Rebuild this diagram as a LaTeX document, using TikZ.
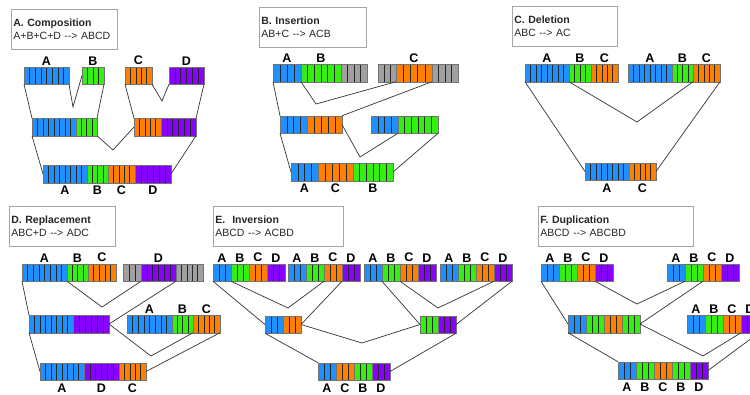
\documentclass[tikz,border=0pt]{standalone}
\usepackage{fontspec}
\setmainfont{Liberation Sans}
\usepackage{tikz}
\usetikzlibrary{positioning,calc}

\definecolor{sininen}{RGB}{30,144,255}
\definecolor{vihrea}{RGB}{51,240,17}
\definecolor{oranssi}{RGB}{255,128,0}
\definecolor{violetti}{RGB}{136,0,255}
\definecolor{harmaa}{RGB}{160,160,160}
\def\viiva{-}

\tikzset{
  pala/.style={draw=black!55, line width=0.4pt, fill=#1, minimum height=17.5pt, inner sep=0pt, outer sep=0pt},
  jakaja/.style={draw=black!85, line width=0.5pt},
  solut/.style={path picture={
      \foreach \m in {1,...,#1}
        \draw[jakaja] ($(path picture bounding box.south west)!{\m/#1}!(path picture bounding box.south east)$)
          -- ($(path picture bounding box.north west)!{\m/#1}!(path picture bounding box.north east)$);
    }},
  kirjain/.style={font=\fontsize{12.5}{13}\selectfont\bfseries, inner sep=0pt},
  ylos/.code={\edef\kirjainteksti{#1}\ifx\kirjainteksti\viiva\else
      \pgfkeysalso{label={[kirjain,yshift=1.5pt]above:#1}}\fi},
  alas/.code={\edef\kirjainteksti{#1}\ifx\kirjainteksti\viiva\else
      \pgfkeysalso{label={[kirjain,yshift=-3pt]below:#1}}\fi},
  ei/.style={},
  yhteys/.style={draw=black!80, line width=0.7pt},
  otsikko/.style={draw=black!35, line width=0.8pt, fill=white, anchor=north west, inner sep=2pt,
    align=left, text=black!85, font=\fontsize{10.5}{12.5}\selectfont, minimum height=40pt},
}

% Kromosomi: palat vierekkäin vasemmalta oikealle
\newcommand{\kromo}[4][ei]{%
  \coordinate (#2-0) at (#3);
  \gdef\edell{#2-0}%
  \foreach \nimi/\vari/\lev/\sol/\kir in {#4}{%
    \node[pala=\vari, minimum width=\lev pt, solut=\sol, #1=\kir, right=0pt of \edell] (#2\nimi) {};
    \xdef\edell{#2\nimi}%
  }%
}

\begin{document}
\begin{tikzpicture}[x=1pt, y=-1pt]
	\useasboundingbox (0,0) rectangle (750,394);
	
	% A. Koostaminen
	\node[otsikko, text width=102pt] (tA) at (11,9) {\textbf{A. Composition}\\A+B+C+D -{}-> ABCD};
	\kromo[ylos]{a1}{24,75.5}{A/sininen/45/8/A}
	\kromo[ylos]{a2}{82,75.5}{B/vihrea/22/4/B}
	\kromo[ylos]{a3}{125,75.5}{C/oranssi/27/5/C}
	\kromo[ylos]{a4}{169,75.5}{D/violetti/35/6/D}
	\kromo{a5}{32,127}{A/sininen/44/8/-,B/vihrea/21/4/-}
	\kromo{a6}{134,127}{C/oranssi/27/5/-,D/violetti/35/6/-}
	\kromo[alas]{a7}{43,174}{A/sininen/44/8/A,B/vihrea/21/4/B,C/oranssi/27/5/C,D/violetti/36/6/D}
	\coordinate (va1) at (73,107);
	\coordinate (va2) at (162,101);
	\coordinate (va3) at (113,150);
	\draw[yhteys] (a1A.south west) -- (a5A.north west);
	\draw[yhteys] (a1A.south east) -- (va1) -- (a2B.west);
	\draw[yhteys] (a2B.south east) -- (a5B.north east);
	\draw[yhteys] (a3C.south west) -- (a6C.north west);
	\draw[yhteys] (a3C.south east) -- (va2) -- (a4D.south west);
	\draw[yhteys] (a4D.south east) -- (a6D.north east);
	\draw[yhteys] (a5A.south west) -- (a7A.west);
	\draw[yhteys] (a5B.south east) -- (va3) -- (a6C.west);
	\draw[yhteys] (a6D.south east) -- (a7D.east);
	
	% B. Lisäys
	\node[otsikko, text width=103pt] (tB) at (259,7) {\textbf{B. Insertion}\\AB+C -{}-> ACB};
	\kromo[ylos]{b1}{273,73}{A/sininen/28/4/A,B/vihrea/40/6/B,X/harmaa/26/4/-}
	\kromo[ylos]{b2}{378,73}{X/harmaa/18/3/-,C/oranssi/36/5/C,Y/harmaa/26/4/-}
	\kromo{b3}{280,124.5}{A/sininen/27/4/-,C/oranssi/35/5/-}
	\kromo{b4}{371,124.5}{A/sininen/27/4/-,B/vihrea/40/6/-}
	\kromo[alas]{b5}{291,172}{A/sininen/27/4/A,C/oranssi/35/5/C,B/vihrea/40/6/B}
	\coordinate (vb1) at (316,104);
	\coordinate (vb2) at (360,157);
	\draw[yhteys] (b1A.south west) -- (b3A.north west);
	\draw[yhteys] (b1A.south east) -- (vb1) -- (b2X.south east);
	\draw[yhteys] (b2C.south east) -- (b3C.north east);
	\draw[yhteys] (b3A.south west) -- (b5A.west);
	\draw[yhteys] (b3C.east) -- (vb2) -- (b4A.south east);
	\draw[yhteys] (b4B.south east) -- (b5B.east);
	
	% C. Poisto
	\node[otsikko, text width=101pt] (tC) at (512,6) {\textbf{C. Deletion}\\ABC -{}-> AC};
	\kromo[ylos]{c1}{525,73}{A/sininen/44/8/A,B/vihrea/22/4/B,C/oranssi/27/5/C}
	\kromo[ylos]{c2}{628,73}{A/sininen/44/8/A,B/vihrea/21/4/B,C/oranssi/27/5/C}
	\kromo[alas]{c3}{585,171.5}{A/sininen/44/8/A,C/oranssi/27/5/C}
	\coordinate (vc1) at (637,122);
	\draw[yhteys] (c1A.south west) -- (c3A.west);
	\draw[yhteys] (c1A.south east) -- (vc1) -- (c2B.south east);
	\draw[yhteys] (c2C.south east) -- (c3C.east);
	
	% D. Korvaus
	\node[otsikko, text width=102pt] (tD) at (9,206) {\textbf{D. Replacement}\\ABC+D -{}-> ADC};
	\kromo[ylos]{d1}{22,272.5}{A/sininen/45/8/A,B/vihrea/21/4/B,C/oranssi/28/5/C}
	\kromo[ylos]{d2}{123,272.5}{X/harmaa/18/3/-,D/violetti/35/6/D,Y/harmaa/27/5/-}
	\kromo{d3}{29,324}{A/sininen/44/8/-,D/violetti/36/6/-}
	\kromo[ylos]{d4}{127,324}{A/sininen/45/8/A,B/vihrea/21/4/B,C/oranssi/27/5/C}
	\kromo[alas]{d5}{40,371.5}{A/sininen/44/8/A,D/violetti/35/6/D,C/oranssi/27/5/C}
	\coordinate (vd1) at (102,307);
	\coordinate (vd2) at (151,356);
	\draw[yhteys] (d1A.south west) -- (d3A.north west);
	\draw[yhteys] (d3A.south west) -- (d5A.west);
	\draw[yhteys] (d1A.south east) -- (vd1) -- (d2X.south east);
	\draw[yhteys] (d2D.south east) -- (d3D.east);
	\draw[yhteys] (d3D.east) -- (vd2) -- (d4B.south east);
	\draw[yhteys] (d4C.south east) -- (d5C.east);
	
	% E. Inversio
	\node[otsikko, text width=126pt] (tE) at (213,206) {\textbf{E.~~Inversion}\\ABCD -{}-> ACBD};
	\foreach \j/\x in {1/213,2/288,3/364,4/440}
		\kromo[ylos]{e\j}{\x,272.5}{A/sininen/18/3/A,B/vihrea/18/3/B,C/oranssi/18/3/C,D/violetti/18/3/D};
	\kromo{e5}{265,324.5}{A/sininen/18/3/-,C/oranssi/18/3/-}
	\kromo{e6}{420,324.5}{B/vihrea/18/3/-,D/violetti/18/3/-}
	\kromo[alas]{e7}{318,371.5}{A/sininen/18/3/A,C/oranssi/18/3/C,B/vihrea/18/3/B,D/violetti/18/3/D}
	\coordinate (ve1) at (288,308);
	\coordinate (ve2) at (362,343);
	\coordinate (ve3) at (438,308);
	\draw[yhteys] (e1A.south west) -- (e5A.west);
	\draw[yhteys] (e1A.south east) -- (ve1) -- (e2B.south east);
	\draw[yhteys] (e2C.south east) -- (e5C.east);
	\draw[yhteys] (e5A.south west) -- (e7A.north west);
	\draw[yhteys] (e5C.east) -- (ve2) -- (e6B.west);
	\draw[yhteys] (e6D.south east) -- (e7D.east);
	\draw[yhteys] (e3A.south east) -- (e6B.west);
	\draw[yhteys] (e3B.south east) -- (ve3) -- (e4C.south east);
	\draw[yhteys] (e4D.south east) -- (e6D.east);
	
	% F. Kahdentuminen
	\node[otsikko, text width=151pt] (tF) at (538,206) {\textbf{F. Duplication}\\ABCD -{}-> ABCBD};
	\kromo[ylos]{f1}{541,272.5}{A/sininen/18/3/A,B/vihrea/18/3/B,C/oranssi/18/3/C,D/violetti/18/3/D}
	\kromo[ylos]{f2}{667,272.5}{A/sininen/18/3/A,B/vihrea/18/3/B,C/oranssi/18/3/C,D/violetti/18/3/D}
	\kromo{f3}{568,324}{A/sininen/18/3/-,B/vihrea/18/3/-,C/oranssi/18/3/-,Bb/vihrea/18/3/-}
	\kromo[ylos]{f4}{687,324}{A/sininen/18/3/A,B/vihrea/18/3/B,C/oranssi/18/3/C,D/violetti/18/3/D}
	\kromo[alas]{f5}{618,370.5}{A/sininen/18/3/A,B/vihrea/18/3/B,C/oranssi/18/3/C,Bb/vihrea/18/3/B,D/violetti/18/3/D}
	\coordinate (vf1) at (637,304);
	\coordinate (vf2) at (703,356);
	\draw[yhteys] (f1A.south west) -- (f3A.west);
	\draw[yhteys] (f1C.south east) -- (vf1) -- (f2A.south east);
	\draw[yhteys] (f2B.south east) -- (f3Bb.east);
	\draw[yhteys] (f3A.south west) -- (f5A.north west);
	\draw[yhteys] (f3Bb.east) -- (vf2) -- (f4C.south east);
	\draw[yhteys] (f4D.south east) -- (f5D.east);
\end{tikzpicture}
\end{document}
